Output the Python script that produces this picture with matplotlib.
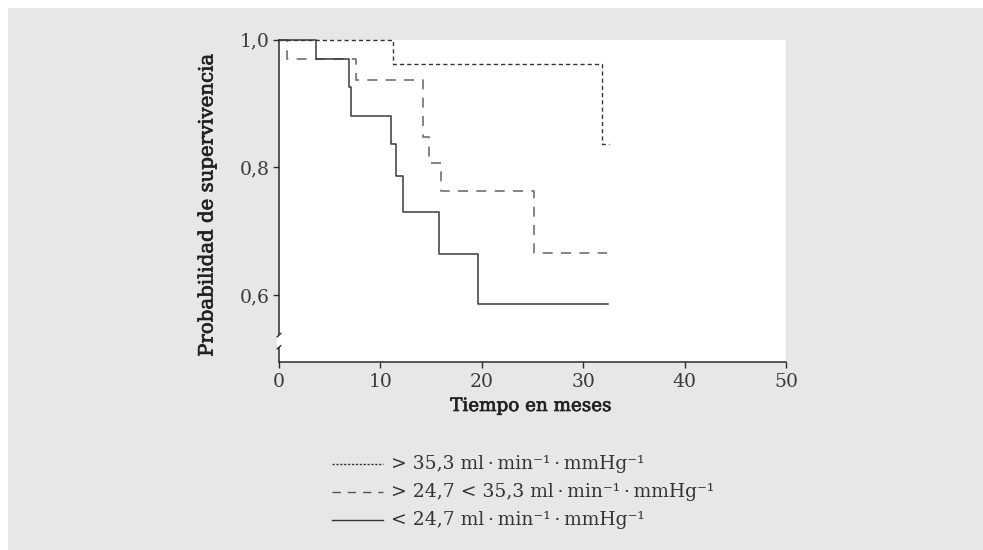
import matplotlib
matplotlib.use("Agg")
import matplotlib.pyplot as plt
from matplotlib.patches import Rectangle
from matplotlib.lines import Line2D
import matplotlib.patheffects as pe

# ---- data ----
t_high = [0, 11.2, 31.85, 32.5]
s_high = [1.0, 0.961, 0.837, 0.837]

t_mid = [0, 0.8, 7.6, 14.25, 14.8, 16.0, 25.1, 32.3]
s_mid = [1.0, 0.970, 0.936, 0.848, 0.807, 0.763, 0.667, 0.667]

t_low = [0, 3.6, 6.86, 7.1, 11.0, 11.57, 12.2, 15.8, 19.6, 32.4]
s_low = [1.0, 0.970, 0.926, 0.881, 0.836, 0.787, 0.730, 0.665, 0.587, 0.587]

x_ticks = [0, 10, 20, 30, 40, 50]
y_ticks = [0.6, 0.8, 1.0]
y_tick_labels = ["0,6", "0,8", "1,0"]

TS = "\u2009\u00b7\u2009"
legend_labels = [
    "> 35,3 ml" + TS + "min\u207b\u00b9" + TS + "mmHg\u207b\u00b9",
    "> 24,7 < 35,3 ml" + TS + "min\u207b\u00b9" + TS + "mmHg\u207b\u00b9",
    "< 24,7 ml" + TS + "min\u207b\u00b9" + TS + "mmHg\u207b\u00b9",
]

W, H = 983, 550
fig = plt.figure(figsize=(W / 100, H / 100), dpi=100)
fig.patch.set_facecolor("white")
BG = "#e6e7e8"
fig.patches.append(Rectangle((8 / W, 0), 1, 1 - 8 / H, transform=fig.transFigure,
                             facecolor=BG, edgecolor="none", zorder=-10))

SERIF = ["DejaVu Serif"]
DARK = "#2b2b2b"
semibold = [pe.withStroke(linewidth=0.5, foreground="#222222")]

ax = fig.add_axes([279 / W, 1 - 362 / H, 507 / W, (362 - 39.5) / H])
ax.set_facecolor("white")
ax.set_xlim(0, 50)
ax.set_ylim(0.496, 1.0)

ax.plot(t_high, s_high, drawstyle="steps-post", color="#333333", lw=1.0,
        dashes=(3.0, 2.2), clip_on=False)
ax.plot(t_mid, s_mid, drawstyle="steps-post", color="#707070", lw=1.2,
        dashes=(6.0, 5.0), clip_on=False)
ax.plot(t_low, s_low, drawstyle="steps-post", color="#3a3a3a", lw=1.1,
        clip_on=False)

for side in ("top", "right"):
    ax.spines[side].set_visible(False)
for side in ("left", "bottom"):
    ax.spines[side].set_color(DARK)
    ax.spines[side].set_linewidth(1.1)

ax.set_xticks(x_ticks)
ax.set_xticklabels([str(v) for v in x_ticks])
ax.set_yticks(y_ticks)
ax.set_yticklabels(y_tick_labels)
ax.tick_params(axis="both", direction="out", length=4, width=1.0, color=DARK,
               labelcolor="#3a3a3a", labelsize=13.5)
for lab in ax.get_xticklabels() + ax.get_yticklabels():
    lab.set_family(SERIF)
ax.tick_params(axis="y", pad=3)
ax.tick_params(axis="x", pad=4)

# axis break on the y spine
y0, y1 = 0.0456, 0.0833
ax.plot([0, 0], [y0, y1], transform=ax.transAxes, color="white", lw=3,
        clip_on=False, zorder=5, solid_capstyle="butt")
dx, dy = 0.007, 0.010
for yy in (y0, y1):
    ax.plot([-dx / 2, dx / 2], [yy - dy / 2, yy + dy / 2], transform=ax.transAxes,
            color=DARK, lw=1.0, clip_on=False, zorder=6)

yl = fig.text(207 / W, 1 - 205 / H, "Probabilidad de supervivencia", family=SERIF,
              fontsize=14.2, color="#222222", rotation=90, ha="center", va="center")
yl.set_path_effects(semibold)
xl = fig.text(531 / W, 1 - 406 / H, "Tiempo en meses", family=SERIF, fontsize=13.2,
              color="#222222", ha="center", va="center")
xl.set_path_effects(semibold)

# custom legend below
styles = [
    dict(color="#333333", lw=1.0, dashes=(1.6, 1.2)),
    dict(color="#555555", lw=1.0, dashes=(6.0, 5.0)),
    dict(color="#333333", lw=1.0),
]
rows_y = [464, 492, 520]
for st, lab, yy in zip(styles, legend_labels, rows_y):
    yf = 1 - yy / H
    fig.add_artist(Line2D([332 / W, 383 / W], [yf, yf], transform=fig.transFigure, **st))
    fig.text(391 / W, yf, lab, family=SERIF, fontsize=13.5, color="#333333",
             ha="left", va="center")

fig.savefig("out.png", dpi=100, facecolor=fig.get_facecolor())
